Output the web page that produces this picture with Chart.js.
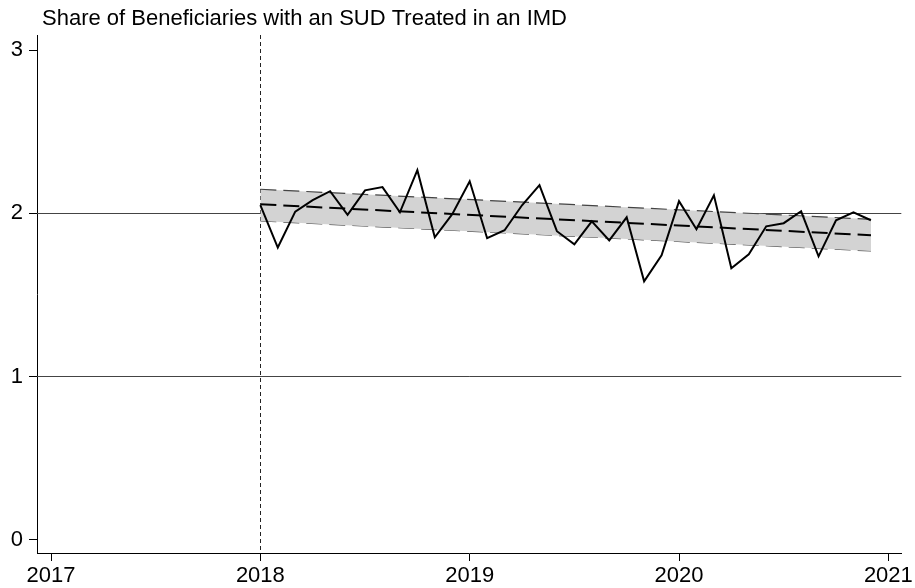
<!DOCTYPE html>
<html>
<head>
<meta charset="utf-8">
<script src="https://cdn.jsdelivr.net/npm/chart.js@4.4.1/dist/chart.umd.min.js"></script>
<style>
  html, body { margin: 0; padding: 0; background: #fff; }
  #wrap { width: 915px; height: 588px; }
</style>
</head>
<body>
<div id="wrap"><canvas id="imdChart"></canvas></div>
<script>
// chart text
const titleText = 'Share of Beneficiaries with an SUD Treated in an IMD';

// monthly series, Jan 2018 .. Dec 2020
const startYear = 2018;
const shareValues = [
  2.05, 1.79, 2.01, 2.08, 2.135, 1.99, 2.14, 2.16, 2.006, 2.264, 1.853, 1.994,
  2.196, 1.847, 1.896, 2.049, 2.172, 1.89, 1.81, 1.95, 1.834, 1.975, 1.583, 1.742,
  2.074, 1.902, 2.11, 1.663, 1.748, 1.92, 1.939, 2.012, 1.736, 1.957, 2.006, 1.957
];

// fitted trend and its confidence band (end points)
const trendYears = [2018, 2020.917];
const trendMid = [2.055, 1.865];
const trendUpper = [2.147, 1.963];
const trendLower = [1.953, 1.769];

// axes
const xTicks = [2017, 2018, 2019, 2020, 2021];
const yTicks = [0, 1, 2, 3];
const refLinesY = [1, 2];
const policyLineX = 2018;

const FONT = '"Liberation Sans", Arial, Helvetica, sans-serif';

function pts(xs, ys) {
  return xs.map((x, i) => ({ x: x, y: ys[i] }));
}
const shareData = shareValues.map((v, i) => ({ x: startYear + i / 12, y: v }));

// reference lines + title, drawn on the canvas
const extras = {
  id: 'extras',
  beforeDatasetsDraw(chart) {
    const { ctx, chartArea, scales } = chart;
    ctx.save();
    ctx.lineWidth = 1;
    ctx.strokeStyle = '#444';
    refLinesY.forEach(v => {
      const y = Math.round(scales.y.getPixelForValue(v)) + 0.5;
      ctx.beginPath();
      ctx.moveTo(chartArea.left, y);
      ctx.lineTo(chartArea.right, y);
      ctx.stroke();
    });
    const x = Math.round(scales.x.getPixelForValue(policyLineX)) + 0.5;
    ctx.strokeStyle = '#222';
    ctx.setLineDash([4, 3]);
    ctx.beginPath();
    ctx.moveTo(x, chartArea.top);
    ctx.lineTo(x, chartArea.bottom);
    ctx.stroke();
    ctx.restore();
  },
  afterDraw(chart) {
    const ctx = chart.ctx;
    ctx.save();
    ctx.fillStyle = '#000';
    ctx.font = '22px ' + FONT;
    ctx.textBaseline = 'middle';
    ctx.textAlign = 'left';
    ctx.fillText(titleText, 42, 19);
    ctx.restore();
  }
};

const ctx = document.getElementById('imdChart').getContext('2d');
const imdChart = new Chart(ctx, {
  type: 'line',
  data: {
    datasets: [
      {
        label: 'Share',
        data: shareData,
        borderColor: '#000',
        borderWidth: 2,
        pointRadius: 0,
        tension: 0,
        fill: false
      },
      {
        label: 'Trend',
        data: pts(trendYears, trendMid),
        borderColor: '#000',
        borderWidth: 2,
        borderDash: [16, 7],
        pointRadius: 0,
        fill: false
      },
      {
        label: 'Upper',
        data: pts(trendYears, trendUpper),
        borderColor: '#444',
        borderWidth: 1.2,
        borderDash: [16, 7],
        backgroundColor: '#d3d3d3',
        pointRadius: 0,
        fill: '+1'
      },
      {
        label: 'Lower',
        data: pts(trendYears, trendLower),
        borderColor: '#444',
        borderWidth: 1.2,
        borderDash: [16, 7],
        pointRadius: 0,
        fill: false
      }
    ]
  },
  options: {
    responsive: true,
    maintainAspectRatio: false,
    animation: false,
    layout: { padding: { top: 35, right: 12, left: 0, bottom: 0 } },
    plugins: {
      legend: { display: false },
      title: { display: false },
      tooltip: { enabled: false }
    },
    scales: {
      x: {
        type: 'linear',
        min: 2016.933,
        max: 2021.062,
        afterBuildTicks: s => { s.ticks = xTicks.map(v => ({ value: v })); },
        afterFit: s => { s.height = 35; },
        grid: { drawOnChartArea: false, tickLength: 8, color: '#000', tickColor: '#000' },
        border: { display: true, color: '#000', width: 1 },
        ticks: {
          color: '#000',
          font: { family: FONT, size: 22 },
          padding: 2,
          maxRotation: 0,
          callback: v => String(v)
        }
      },
      y: {
        min: -0.0815,
        max: 3.092,
        afterBuildTicks: s => { s.ticks = yTicks.map(v => ({ value: v })); },
        afterFit: s => { s.width = 37; },
        grid: { drawOnChartArea: false, tickLength: 8, color: '#000', tickColor: '#000' },
        border: { display: true, color: '#000', width: 1 },
        ticks: {
          color: '#000',
          font: { family: FONT, size: 22 },
          padding: 6,
          callback: v => String(v)
        }
      }
    }
  },
  plugins: [extras]
});
</script>
</body>
</html>
